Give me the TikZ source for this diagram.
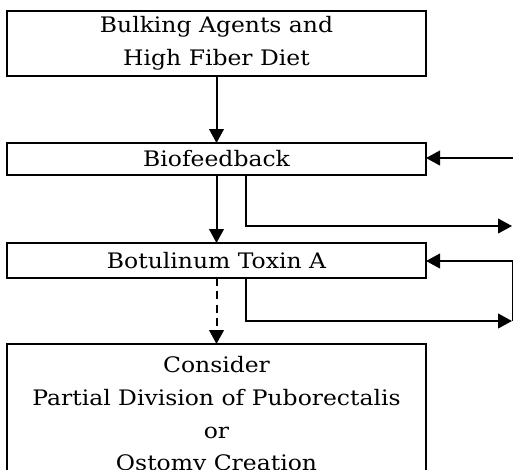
\documentclass[tikz,border=0pt]{standalone}
\usepackage{fontspec}
\setmainfont{DejaVu Serif}[FakeStretch=1.1]
\usetikzlibrary{arrows.meta}

\tikzset{every picture/.style={line width=1.5pt}}
\tikzset{
  stepbox/.style={draw, line width=1.6pt, inner sep=0pt, outer sep=0pt,
    minimum width=314.25pt, align=center,
    font=\fontsize{16}{24.5}\selectfont},
  conn/.style={-{Triangle[length=10.5pt,width=11pt]}, line width=1.5pt},
}

\begin{document}
\begin{tikzpicture}[x=0.75pt,y=0.75pt,yscale=-1,xscale=1]
	\useasboundingbox (0,0) rectangle (513,469);
	\clip (0,0) rectangle (513,469);

	%Shape: Rectangle
	\node [stepbox, minimum height=48.75pt] (bulk) at (216.5,43.5) {Bulking Agents and\\High Fiber Diet};
	%Shape: Rectangle
	\node [stepbox, minimum height=24pt] (bio) at (216.5,159) {Biofeedback};
	%Shape: Rectangle
	\node [stepbox, minimum height=26.25pt] (botox) at (216.5,260.5) {Botulinum Toxin A};
	%Shape: Rectangle
	\node [stepbox, anchor=north, inner ysep=9.4pt] (surg) at (216.5,344) {Consider\\Partial Division of Puborectalis\\or\\Ostomy Creation};

	%free ends at the right margin
	\coordinate (bioin) at (513,158);
	\coordinate (bioout) at (512,226);
	\coordinate (botin) at (513,261);
	\coordinate (botout) at (512,321);

	%Straight Lines
	\draw [conn] (bulk.south) -- (bio.north) ;
	\draw [conn] (bio.south) -- (botox.north) ;
	\draw [conn, dash pattern=on 6pt off 4pt] (botox.south) -- (surg.north) ;
	%Straight Lines
	\draw [conn] (bioin) -- (bio.east |- bioin) ;
	\draw [conn] ([xshift=21.75pt]bio.south) |- (bioout) ;
	\draw [conn] (botin) -- (botox.east |- botin) ;
	\draw [conn] ([xshift=21.75pt]botox.south) |- (botout) ;
	\draw (botin) -- (513,321) ;

\end{tikzpicture}
\end{document}
